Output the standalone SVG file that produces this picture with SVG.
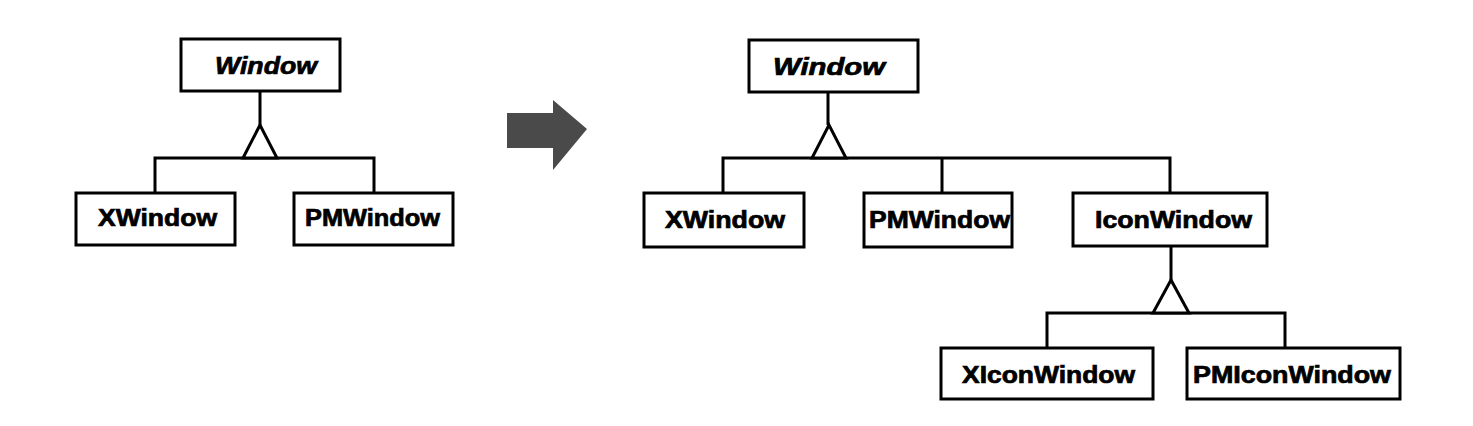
<svg xmlns="http://www.w3.org/2000/svg" width="1473" height="426" viewBox="0 0 1473 426">
<style>
.box{fill:#fff;stroke:#000;stroke-width:3}
.lbl{font-family:"Liberation Sans",Arial,sans-serif;font-weight:bold;font-size:23px;fill:#000;stroke:#000;stroke-width:0.7}
.it{font-style:italic}
.con{fill:none;stroke:#000;stroke-width:3}
.tri{fill:#fff;stroke:#000;stroke-width:3;stroke-linejoin:miter}
</style>
<rect width="1473" height="426" fill="#fff"/>
<g id="connectors">
  <path class="con" d="M260,91V125M155,193V158H374V193"/>
  <polygon class="tri" points="260,125 243,158 277,158"/>
  <path class="con" d="M828,92V125M723,193V158H1170V193M942,158V193"/>
  <polygon class="tri" points="829,125 812,158 846,158"/>
  <path class="con" d="M1171,246V280M1047,348V313H1285V348"/>
  <polygon class="tri" points="1171,280 1153,313 1189,313"/>
</g>
<g id="arrow">
  <polygon points="507,113 553,113 553,100 587,129 553,170 553,148 507,148" fill="#4a4a4a"/>
</g>
<g id="left-window">
  <rect class="box" x="181" y="39" width="159" height="52"/>
  <text class="lbl it" x="215" y="74" textLength="102" lengthAdjust="spacingAndGlyphs">Window</text>
</g>
<g id="left-xwindow">
  <rect class="box" x="76" y="193" width="159" height="52"/>
  <text class="lbl" x="98" y="226" textLength="119" lengthAdjust="spacingAndGlyphs">XWindow</text>
</g>
<g id="left-pmwindow">
  <rect class="box" x="294" y="193" width="159" height="52"/>
  <text class="lbl" x="305" y="226" textLength="135" lengthAdjust="spacingAndGlyphs">PMWindow</text>
</g>
<g id="right-window">
  <rect class="box" x="749" y="40" width="169" height="52"/>
  <text class="lbl it" x="773" y="75" textLength="112" lengthAdjust="spacingAndGlyphs">Window</text>
</g>
<g id="right-xwindow">
  <rect class="box" x="644" y="193" width="160" height="54"/>
  <text class="lbl" x="665" y="228" textLength="120" lengthAdjust="spacingAndGlyphs">XWindow</text>
</g>
<g id="right-pmwindow">
  <rect class="box" x="864" y="193" width="148" height="54"/>
  <text class="lbl" x="869" y="228" textLength="141" lengthAdjust="spacingAndGlyphs">PMWindow</text>
</g>
<g id="iconwindow">
  <rect class="box" x="1073" y="193" width="194" height="53"/>
  <text class="lbl" x="1095" y="228" textLength="157" lengthAdjust="spacingAndGlyphs">IconWindow</text>
</g>
<g id="xiconwindow">
  <rect class="box" x="941" y="348" width="212" height="51"/>
  <text class="lbl" x="962" y="383" textLength="173" lengthAdjust="spacingAndGlyphs">XIconWindow</text>
</g>
<g id="pmiconwindow">
  <rect class="box" x="1187" y="348" width="213" height="51"/>
  <text class="lbl" x="1193" y="383" textLength="198" lengthAdjust="spacingAndGlyphs">PMIconWindow</text>
</g>
</svg>
